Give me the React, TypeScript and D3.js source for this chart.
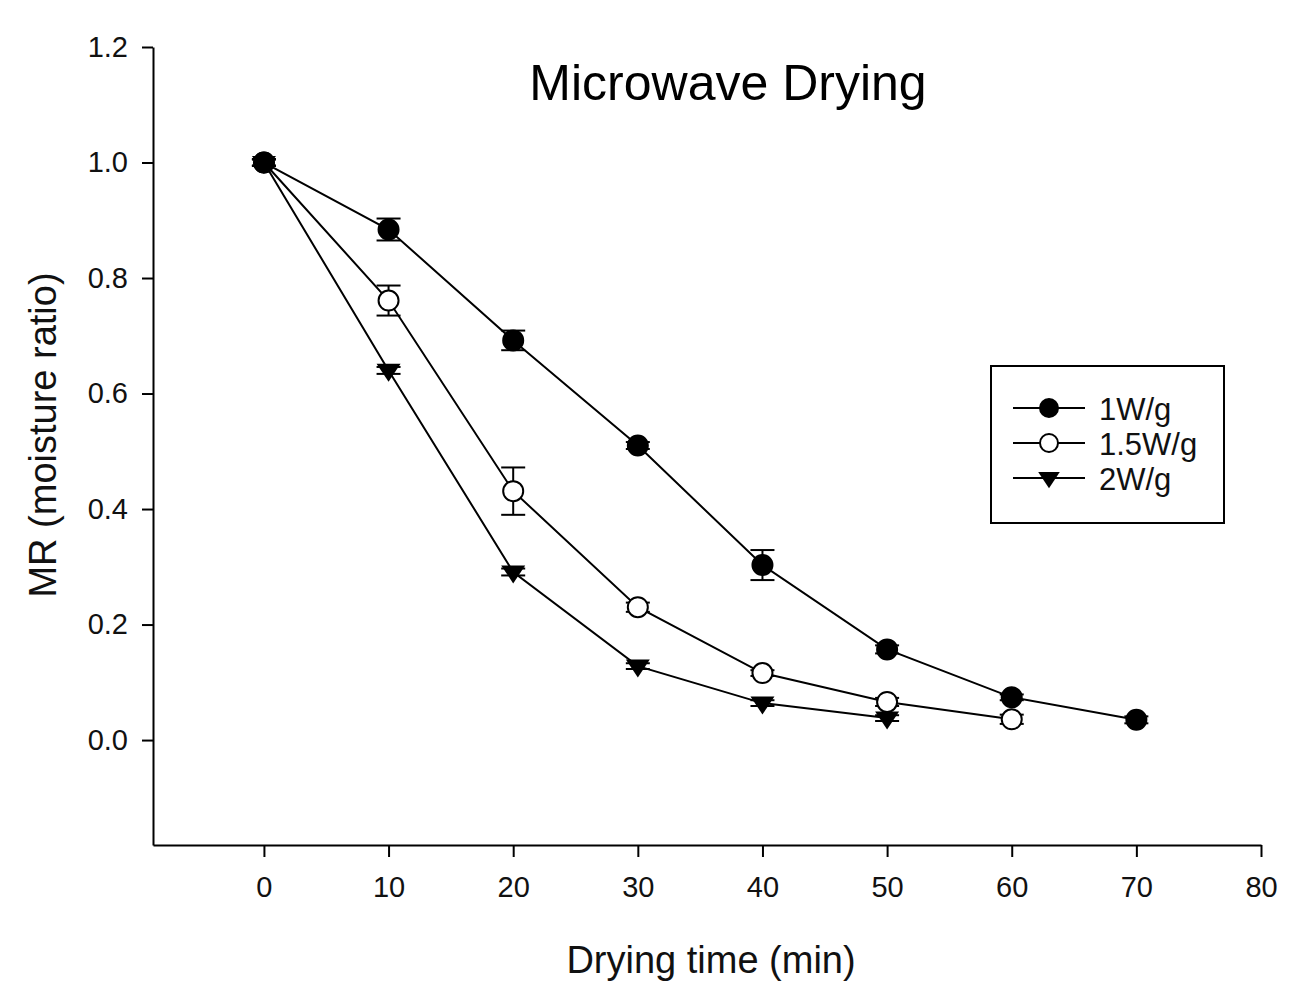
import { useEffect, useRef } from "react";
import * as d3 from "d3";

const times = [0, 10, 20, 30, 40, 50, 60, 70];

const seriesNames = ["1W/g", "1.5W/g", "2W/g"];

const mr1 = [1.0, 0.884, 0.692, 0.51, 0.303, 0.157, 0.074, 0.035];
const err1 = [0.006, 0.019, 0.017, 0.006, 0.026, 0.007, 0.005, 0.006];

const mr15 = [1.0, 0.761, 0.431, 0.23, 0.116, 0.066, 0.036];
const err15 = [0.006, 0.026, 0.041, 0.008, 0.005, 0.007, 0.008];

const mr2 = [1.0, 0.64, 0.291, 0.128, 0.064, 0.038];
const err2 = [0.005, 0.006, 0.006, 0.005, 0.005, 0.005];

const xTicks = [0, 10, 20, 30, 40, 50, 60, 70, 80];
const yTicks = [0, 0.2, 0.4, 0.6, 0.8, 1.0, 1.2];

const FONT = "'Liberation Sans', Arial, sans-serif";

export default function App() {
  const svgRef = useRef(null);

  useEffect(() => {
    const svg = d3.select(svgRef.current);
    svg.selectAll("*").remove();

    const width = 1298;
    const height = 1005;
    const left = 153;
    const right = 1261;
    const top = 47;
    const bottom = 845;

    const x = d3.scaleLinear().domain([-8.9, 80]).range([left, right]);
    const y = d3.scaleLinear().domain([-0.1817, 1.2]).range([bottom, top]);

    svg.attr("width", width).attr("height", height);
    svg.append("rect").attr("width", width).attr("height", height).attr("fill", "white");

    // axes
    const xAxis = d3
      .axisBottom(x)
      .tickValues(xTicks)
      .tickSize(12)
      .tickSizeOuter(0)
      .tickPadding(19)
      .tickFormat((d) => d3.format("d")(d));

    const yAxis = d3
      .axisLeft(y)
      .tickValues(yTicks)
      .tickSize(11)
      .tickSizeOuter(0)
      .tickPadding(14)
      .tickFormat((d) => d3.format(".1f")(d));

    svg
      .append("g")
      .attr("transform", `translate(0, ${bottom})`)
      .call(xAxis)
      .attr("font-size", null)
      .attr("font-family", null)
      .call((g) => g.select(".domain").attr("stroke", "#000").attr("stroke-width", 2))
      .call((g) => g.selectAll(".tick line").attr("stroke", "#000").attr("stroke-width", 2))
      .call((g) =>
        g
          .selectAll("text")
          .attr("fill", "#111")
          .style("font-size", "29px")
          .style("font-family", FONT)
      );

    svg
      .append("g")
      .attr("transform", `translate(${left}, 0)`)
      .call(yAxis)
      .attr("font-size", null)
      .attr("font-family", null)
      .call((g) => g.select(".domain").attr("stroke", "#000").attr("stroke-width", 2))
      .call((g) => g.selectAll(".tick line").attr("stroke", "#000").attr("stroke-width", 2))
      .call((g) =>
        g
          .selectAll("text")
          .attr("fill", "#111")
          .style("font-size", "29px")
          .style("font-family", FONT)
      );

    // titles
    svg
      .append("text")
      .attr("x", 728)
      .attr("y", 100)
      .attr("text-anchor", "middle")
      .style("font-size", "50px")
      .style("font-family", FONT)
      .attr("fill", "#000")
      .text("Microwave Drying");

    svg
      .append("text")
      .attr("x", 711)
      .attr("y", 973)
      .attr("text-anchor", "middle")
      .style("font-size", "38px")
      .style("font-family", FONT)
      .attr("fill", "#111")
      .text("Drying time (min)");

    svg
      .append("text")
      .attr("transform", `translate(56, 435) rotate(-90)`)
      .attr("text-anchor", "middle")
      .style("font-size", "38px")
      .style("font-family", FONT)
      .attr("fill", "#111")
      .text("MR (moisture ratio)");

    const series = [
      { name: seriesNames[0], values: mr1, errors: err1, marker: "filled" },
      { name: seriesNames[1], values: mr15, errors: err15, marker: "open" },
      { name: seriesNames[2], values: mr2, errors: err2, marker: "triangle" },
    ];

    const line = d3
      .line()
      .x((d) => x(d[0]))
      .y((d) => y(d[1]));

    const drawMarker = (g, kind, cx, cy, r = 10) => {
      if (kind === "triangle") {
        const s = r * 1.2;
        g.append("path")
          .attr("d", `M${cx - s},${cy - s * 0.55} L${cx + s},${cy - s * 0.55} L${cx},${cy + s * 0.95} Z`)
          .attr("fill", "#000");
      } else {
        g.append("circle")
          .attr("cx", cx)
          .attr("cy", cy)
          .attr("r", r)
          .attr("fill", kind === "filled" ? "#000" : "#fff")
          .attr("stroke", "#000")
          .attr("stroke-width", 2);
      }
    };

    // draw in reverse so the 1W/g series sits on top
    [...series].reverse().forEach((s) => {
      const pts = s.values.map((v, i) => [times[i], v]);
      const g = svg.append("g");

      g.append("path")
        .attr("d", line(pts))
        .attr("fill", "none")
        .attr("stroke", "#000")
        .attr("stroke-width", 2);

      pts.forEach((p, i) => {
        const cx = x(p[0]);
        const e = s.errors[i];
        const y0 = y(p[1] - e);
        const y1 = y(p[1] + e);
        g.append("line")
          .attr("x1", cx)
          .attr("x2", cx)
          .attr("y1", y0)
          .attr("y2", y1)
          .attr("stroke", "#000")
          .attr("stroke-width", 2);
        [y0, y1].forEach((yy) => {
          g.append("line")
            .attr("x1", cx - 12)
            .attr("x2", cx + 12)
            .attr("y1", yy)
            .attr("y2", yy)
            .attr("stroke", "#000")
            .attr("stroke-width", 2);
        });
        drawMarker(g, s.marker, cx, y(p[1]));
      });
    });

    // legend
    const legend = svg.append("g").attr("transform", "translate(991, 366)");
    legend
      .append("rect")
      .attr("width", 233)
      .attr("height", 157)
      .attr("fill", "white")
      .attr("stroke", "#000")
      .attr("stroke-width", 2);

    series.forEach((s, i) => {
      const ly = 42 + i * 35;
      legend
        .append("line")
        .attr("x1", 22)
        .attr("x2", 94)
        .attr("y1", ly)
        .attr("y2", ly)
        .attr("stroke", "#000")
        .attr("stroke-width", 2);
      drawMarker(legend, s.marker, 58, ly, 9);
      legend
        .append("text")
        .attr("x", 108)
        .attr("y", ly + 12)
        .style("font-size", "31px")
        .style("font-family", FONT)
        .attr("fill", "#111")
        .text(s.name);
    });
  }, []);

  return (
    <div style={{ position: "absolute", left: 0, top: 0 }}>
      <svg ref={svgRef}></svg>
    </div>
  );
}
